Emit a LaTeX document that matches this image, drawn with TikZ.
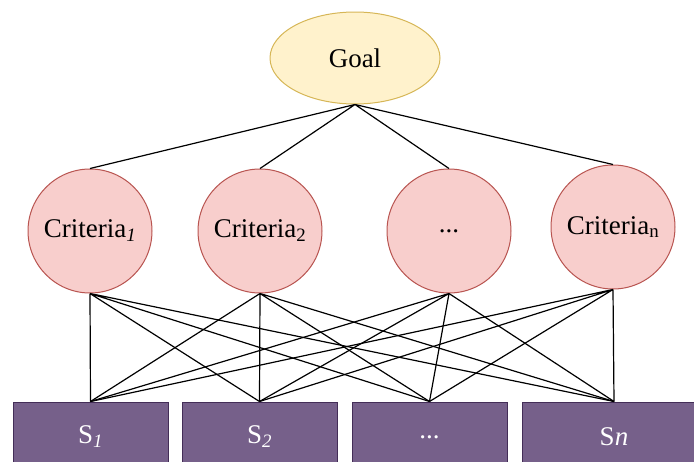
\documentclass[tikz,border=0pt]{standalone}
\usepackage{fontspec}
\setmainfont{Liberation Serif}
\usetikzlibrary{shapes.geometric}
\definecolor{goalfill}{HTML}{FFF2CC}
\definecolor{goalline}{HTML}{D6B656}
\definecolor{critfill}{HTML}{F8CECC}
\definecolor{critline}{HTML}{B85450}
\definecolor{solfill}{HTML}{76608A}
\definecolor{solline}{HTML}{432D57}
\tikzset{
    goal/.style = {
        ellipse,
        draw=goalline,
        fill=goalfill,
        line width=1pt,
        minimum width=170pt,
        minimum height=92pt,
        inner sep=0pt
    },
    criteria/.style = {
        circle,
        draw=critline,
        fill=critfill,
        line width=1pt,
        minimum size=124pt,
        inner sep=0pt
    },
    solution/.style = {
        rectangle,
        draw=solline,
        fill=solfill,
        line width=1pt,
        text=white,
        minimum width=155pt,
        minimum height=70pt,
        inner sep=0pt
    },
    connect/.style = {
        line width=1.2pt,
        black
    }
}

\begin{document}
\begin{tikzpicture}[x=1pt,y=-1pt,font=\fontsize{27}{31}\selectfont]
    \useasboundingbox (0,0) rectangle (694,461);

    % Draw goal and criteria
    \node[goal] (goal) at (355,58) {Goal};
    \node[criteria] (c1) at (90,231)  {Criteria\textsubscript{\itshape 1}};
    \node[criteria] (c2) at (260,231) {Criteria\textsubscript{2}};
    \node[criteria] (c3) at (449,231) {...};
    \node[criteria] (cn) at (613,227) {Criteria\textsubscript{n}};

    % Draw solutions
    \node[solution] (s1) at (90.5,437)  {S\textsubscript{\itshape 1}};
    \node[solution] (s2) at (259.5,437) {S\textsubscript{\itshape 2}};
    \node[solution] (s3) at (429.5,437) {...};
    \node[solution, minimum width=184pt] (sn) at (614,437) {S\textit{n}};

    % Draw connections
    \draw[connect] (goal.south) -- (c1.north) (goal.south) -- (c2.north)
                   (goal.south) -- (c3.north) (goal.south) -- (cn.north);

    \draw[connect] (c1.south) -- (s1.north) (c1.south) -- (s2.north)
                   (c1.south) -- (s3.north) (c1.south) -- (sn.north);
    \draw[connect] (c2.south) -- (s1.north) (c2.south) -- (s2.north)
                   (c2.south) -- (s3.north) (c2.south) -- (sn.north);
    \draw[connect] (c3.south) -- (s1.north) (c3.south) -- (s2.north)
                   (c3.south) -- (s3.north) (c3.south) -- (sn.north);
    \draw[connect] (cn.south) -- (s1.north) (cn.south) -- (s2.north)
                   (cn.south) -- (s3.north) (cn.south) -- (sn.north);
\end{tikzpicture}
\end{document}
